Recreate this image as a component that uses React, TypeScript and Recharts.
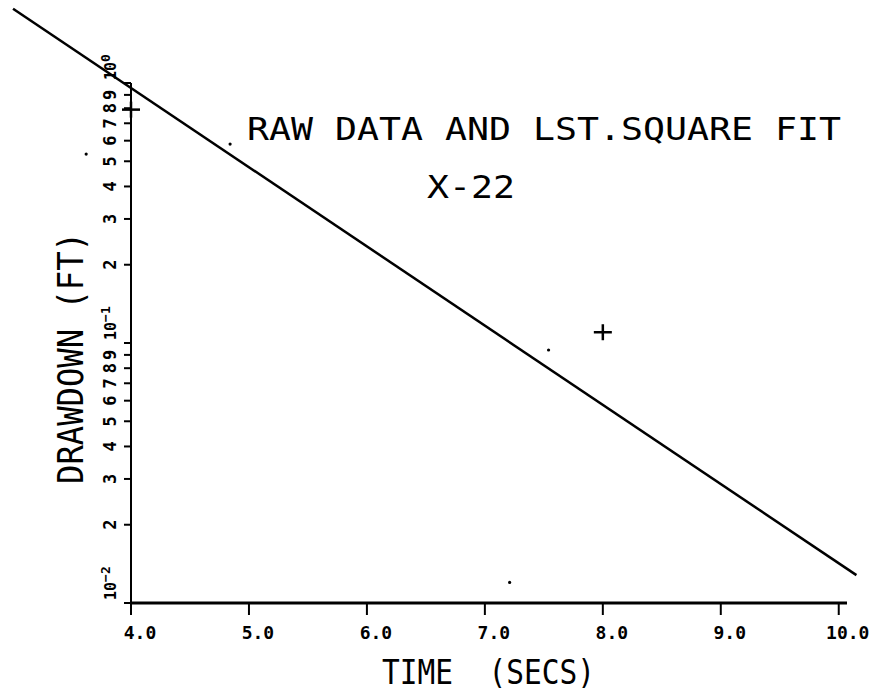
import {
  ComposedChart,
  Line,
  Scatter,
  XAxis,
  YAxis,
} from "recharts";

// ── Data ─────────────────────────────────────────────────────────────────

// least-square fit line (straight on the log axis, so two ends are enough)
const fitTime = [3.0, 10.15];
const fitDrawdown = [1.93, 0.0128];

// raw data points drawn as "+"
const rawTime = [4.0, 8.0];
const rawDrawdown = [0.79, 0.11];

// small plotted dots
const dotTime = [3.62, 4.84, 7.54, 7.21];
const dotDrawdown = [0.533, 0.582, 0.094, 0.012];

const xTicks = [4, 5, 6, 7, 8, 9, 10];
const yTicks = [
  0.01, 0.02, 0.03, 0.04, 0.05, 0.06, 0.07, 0.08, 0.09,
  0.1, 0.2, 0.3, 0.4, 0.5, 0.6, 0.7, 0.8, 0.9,
  1,
];

const fitData = fitTime.map((t, i) => ({ t, v: fitDrawdown[i] }));
const rawData = rawTime.map((t, i) => ({ t, v: rawDrawdown[i] }));
const dotData = dotTime.map((t, i) => ({ t, v: dotDrawdown[i] }));

const FONT = "'DejaVu Sans Mono', monospace";

// ── Custom ticks ─────────────────────────────────────────────────────────

function XTick(props: any) {
  const { x, y, payload } = props;
  return (
    <text
      x={x + 9}
      y={y + 22}
      textAnchor="middle"
      fontFamily={FONT}
      fontWeight="bold"
      fontSize={18}
      fill="#000"
    >
      {Number(payload.value).toFixed(1)}
    </text>
  );
}

function YTick(props: any) {
  const { y, payload } = props;
  const v = payload.value as number;
  const exp = Math.round(Math.log10(v));
  const isPow = Math.abs(Math.pow(10, exp) - v) < 1e-9;
  const bx = 116;
  if (isPow) {
    return (
      <text
        x={bx}
        y={y - 3}
        transform={`rotate(-90, ${bx}, ${y - 3})`}
        textAnchor="start"
        fontFamily={FONT}
        fontWeight="bold"
        fontSize={15}
        fill="#000"
      >
        10
        <tspan dy={-6} fontSize={13}>
          {exp === 0 ? "0" : `\u2212${-exp}`}
        </tspan>
      </text>
    );
  }
  const digit = Math.round(v / Math.pow(10, Math.floor(Math.log10(v) + 1e-9)));
  return (
    <text
      x={bx}
      y={y}
      transform={`rotate(-90, ${bx}, ${y})`}
      textAnchor="middle"
      fontFamily={FONT}
      fontWeight="bold"
      fontSize={17}
      fill="#000"
    >
      {digit}
    </text>
  );
}

function PlusMark(props: any) {
  const { cx, cy } = props;
  return (
    <g stroke="#000" strokeWidth={2.5}>
      <line x1={cx - 9} y1={cy} x2={cx + 9} y2={cy} />
      <line x1={cx} y1={cy - 8} x2={cx} y2={cy + 8} />
    </g>
  );
}

function SmallDot(props: any) {
  const { cx, cy } = props;
  return <circle cx={cx} cy={cy} r={1.6} fill="#000" />;
}

// ── Component ────────────────────────────────────────────────────────────

export default function App() {
  return (
    <div style={{ position: "absolute", left: 0, top: 0, width: 879, height: 694, background: "#fff" }}>
      {/* the fit line runs past the axes in the original, so no clipping */}
      <style>{".recharts-surface [clip-path]{clip-path:none !important}"}</style>
      <ComposedChart
        width={879}
        height={694}
        margin={{ top: 83, right: 32, bottom: 0, left: 0 }}
      >
        <XAxis
          type="number"
          dataKey="t"
          domain={[4, 10.07]}
          allowDataOverflow
          ticks={xTicks}
          interval={0}
          height={91}
          tickSize={12}
          axisLine={{ stroke: "#000", strokeWidth: 3 }}
          tickLine={{ stroke: "#000", strokeWidth: 2 }}
          tick={<XTick />}
        />
        <YAxis
          type="number"
          dataKey="v"
          scale="log"
          domain={[0.01, 1]}
          allowDataOverflow
          ticks={yTicks}
          interval={0}
          width={131}
          tickSize={7}
          axisLine={{ stroke: "#000", strokeWidth: 2 }}
          tickLine={{ stroke: "#000", strokeWidth: 2 }}
          tick={<YTick />}
        />

        <Line
          data={fitData}
          dataKey="v"
          type="linear"
          stroke="#000"
          strokeWidth={2.5}
          dot={false}
          activeDot={false}
          isAnimationActive={false}
        />
        <Scatter data={rawData} dataKey="v" shape={<PlusMark />} isAnimationActive={false} />
        <Scatter data={dotData} dataKey="v" shape={<SmallDot />} isAnimationActive={false} />

        {/* titles */}
        <text
          x={247}
          y={140}
          textLength={594}
          lengthAdjust="spacingAndGlyphs"
          fontFamily={FONT}
          fontSize={32}
          fill="#000"
        >
          RAW DATA AND LST.SQUARE FIT
        </text>
        <text
          x={427}
          y={198}
          textLength={88}
          lengthAdjust="spacingAndGlyphs"
          fontFamily={FONT}
          fontSize={32}
          fill="#000"
        >
          X-22
        </text>
        <text
          x={382}
          y={684}
          textLength={213}
          lengthAdjust="spacingAndGlyphs"
          fontFamily={FONT}
          fontSize={33}
          fill="#000"
          style={{ whiteSpace: "pre" }}
        >
          {"TIME  (SECS)"}
        </text>
        <text
          x={83}
          y={484}
          transform="rotate(-90, 83, 484)"
          textLength={252}
          lengthAdjust="spacingAndGlyphs"
          fontFamily={FONT}
          fontSize={35}
          fill="#000"
        >
          DRAWDOWN (FT)
        </text>
      </ComposedChart>
    </div>
  );
}
